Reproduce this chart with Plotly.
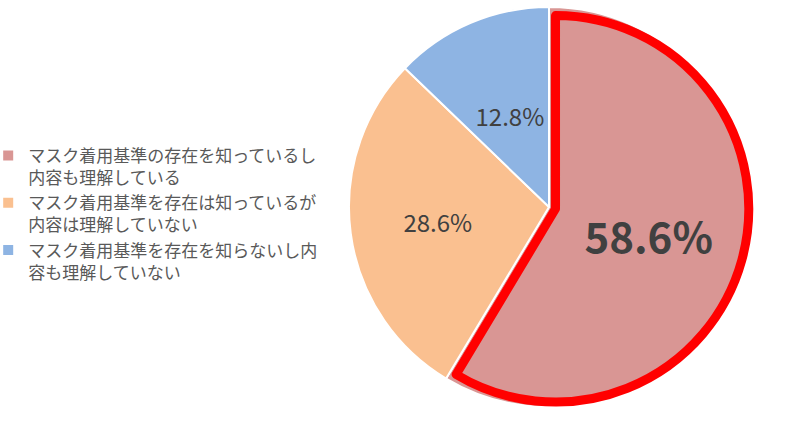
import plotly.graph_objects as go

labels = [
    "マスク着用基準の存在を知っているし<br>内容も理解している",
    "マスク着用基準を存在は知っているが<br>内容は理解していない",
    "マスク着用基準を存在を知らないし内<br>容も理解していない",
]
values = [58.6, 28.6, 12.8]
colors = ["#D99694", "#FAC090", "#8EB4E3"]

pct_text = [f"{v:.1f}%" for v in values]
TEXT_COLOR = "#404040"
CLEAR = "rgba(0,0,0,0)"

W, H = 787, 428
CX, CY = 549, 207  # pie centre in pixels


def domain(r):
    return dict(x=[(CX - r) / W, (CX + r) / W], y=[1 - (CY + r) / H, 1 - (CY - r) / H])


common = dict(labels=labels, values=values, sort=False, direction="clockwise",
              rotation=0, textinfo="text", textposition="inside",
              insidetextorientation="horizontal")

fig = go.Figure()

# base pie
fig.add_trace(go.Pie(
    **common,
    domain=domain(200),
    marker=dict(colors=colors, line=dict(color="white", width=2)),
    text=["", pct_text[1], ""],
    textfont=dict(family="Noto Sans CJK JP", size=24, color=TEXT_COLOR),
    hoverinfo="label+percent",
    showlegend=True,
))

# highlighted slice on top with the thick red outline
fig.add_trace(go.Pie(
    **common,
    domain=domain(200),
    pull=[0.035, 0, 0],
    marker=dict(
        colors=[colors[0], CLEAR, CLEAR],
        line=dict(color=["#FF0000", CLEAR, CLEAR], width=[9, 0, 0]),
    ),
    text=["<b>" + pct_text[0] + "</b>", "", ""],
    textfont=dict(family="Noto Sans CJK JP", size=42, color=TEXT_COLOR),
    hoverinfo="skip",
    showlegend=False,
))

# smaller transparent pie, only used to sit the 12.8% label nearer the centre
fig.add_trace(go.Pie(
    **common,
    domain=domain(139),
    marker=dict(colors=[CLEAR] * 3, line=dict(width=0)),
    text=["", "", pct_text[2]],
    textfont=dict(family="Noto Sans CJK JP", size=24, color=TEXT_COLOR),
    hoverinfo="skip",
    showlegend=False,
))

fig.update_layout(
    width=W,
    height=H,
    margin=dict(l=0, r=0, t=0, b=0, autoexpand=False),
    paper_bgcolor="white",
    plot_bgcolor="white",
    font=dict(family="Noto Sans CJK JP", color="#595959"),
    legend=dict(
        x=-0.015,
        y=0.5,
        xanchor="left",
        yanchor="middle",
        valign="top",
        font=dict(family="Noto Sans CJK JP", size=17, color="#595959"),
        bgcolor="rgba(0,0,0,0)",
        itemclick=False,
    ),
)

fig.write_html(
    "out.html",
    config={"displayModeBar": False},
    post_script="document.body.style.margin = '0';",
)
